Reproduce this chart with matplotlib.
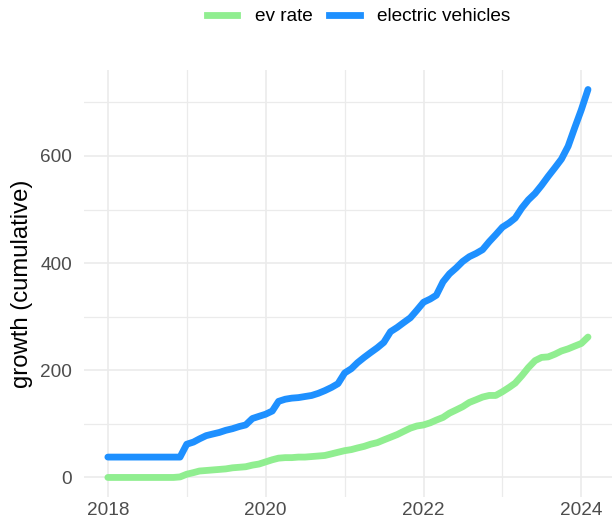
import matplotlib
matplotlib.use("Agg")
import matplotlib.pyplot as plt
import matplotlib.dates as mdates
import numpy as np
import pandas as pd
from matplotlib.lines import Line2D

plt.rcParams.update({
    "font.family": ["Liberation Sans", "DejaVu Sans"],
})

# monthly observations, Jan 2018 .. Feb 2024
months = pd.date_range("2018-01-01", "2024-02-01", freq="MS")

electric_vehicles = [
    38, 38, 38, 38, 38, 38, 38, 38, 38, 38, 38, 38,          # 2018
    62, 66, 72, 78, 81, 84, 88, 91, 95, 98, 110, 114,        # 2019
    118, 124, 142, 146, 148, 149, 151, 153, 157, 162, 168, 175,  # 2020
    195, 203, 214, 224, 233, 242, 252, 272, 280, 289, 298, 312,  # 2021
    327, 333, 340, 365, 380, 391, 403, 412, 418, 425, 440, 453,  # 2022
    467, 475, 484, 503, 518, 530, 545, 562, 578, 594, 618, 652,  # 2023
    686, 724,                                                # 2024
]

ev_rate = [
    0, 0, 0, 0, 0, 0, 0, 0, 0, 0, 0, 1,                      # 2018
    6, 9, 12, 13, 14, 15, 16, 18, 19, 20, 23, 25,            # 2019
    29, 33, 36, 37, 37, 38, 38, 39, 40, 41, 44, 47,          # 2020
    50, 52, 55, 58, 62, 65, 70, 75, 80, 86, 92, 96,          # 2021
    98, 102, 107, 112, 120, 126, 132, 140, 145, 150, 153, 153,  # 2022
    160, 168, 176, 190, 205, 218, 224, 225, 230, 236, 240, 245,  # 2023
    250, 262,                                                # 2024
]

SERIES = [
    ("ev rate", ev_rate, "#90EE90"),
    ("electric vehicles", electric_vehicles, "#1E90FF"),
]
GRID = "#EBEBEB"
TEXT = "#4D4D4D"
LW = 4.9

fig = plt.figure(figsize=(6.12, 5.23), dpi=100)
ax = fig.add_axes([0.137, 0.050, 0.863, 0.816])

for label, vals, color in SERIES:
    ax.plot(months, vals, color=color, linewidth=LW, solid_capstyle="round",
            solid_joinstyle="round", label=label)

ax.margins(x=0.05, y=0.05)
ax.xaxis.set_major_locator(mdates.YearLocator(2))
ax.xaxis.set_major_formatter(mdates.DateFormatter("%Y"))
ax.xaxis.set_minor_locator(mdates.YearLocator(1))
ax.set_yticks([0, 200, 400, 600])
ax.set_yticks([100, 300, 500, 700], minor=True)

ax.grid(True, which="major", color=GRID, linewidth=1.2)
ax.grid(True, which="minor", color=GRID, linewidth=0.9)
ax.set_axisbelow(True)
for side in ax.spines.values():
    side.set_visible(False)
ax.tick_params(which="both", length=0)
ax.tick_params(axis="x", labelsize=13.7, labelcolor=TEXT, pad=4)
ax.tick_params(axis="y", labelsize=13.7, labelcolor=TEXT, pad=8.5)
ax.set_ylabel("growth (cumulative)", fontsize=17.2, color="black", labelpad=5)

handles = [Line2D([0], [0], color=c, linewidth=LW) for _, _, c in SERIES]
fig.legend(handles, [s[0] for s in SERIES], loc="center",
           bbox_to_anchor=(0.586, 0.968), ncol=2, frameon=False,
           fontsize=13.7, handlelength=1.6, handletextpad=0.9,
           columnspacing=0.9)

fig.savefig("out.png", dpi=100)
